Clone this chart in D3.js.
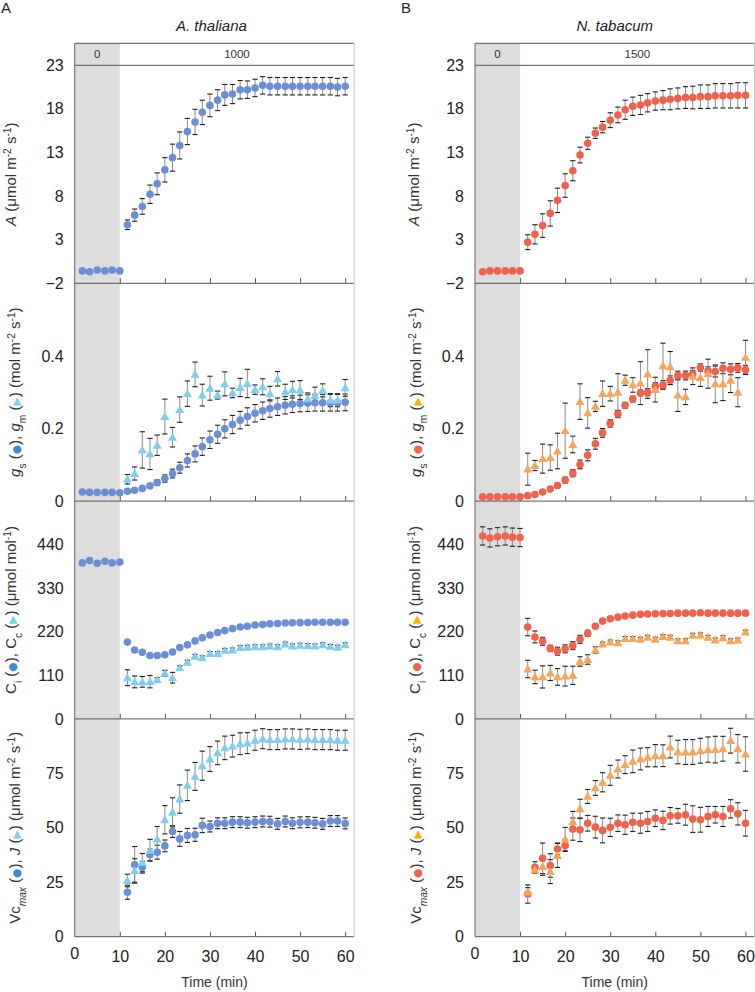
<!DOCTYPE html>
<html><head><meta charset="utf-8">
<script src="https://cdn.jsdelivr.net/npm/d3@7"></script>
<style>body{margin:0;background:#fff}text{font-family:"Liberation Sans",Arial,sans-serif}</style>
</head><body><svg id="c" width="755" height="992"></svg>
<script>
// ---------- data ----------
const times = [1.7,3.3,5,6.7,8.3,10,11.7,13.3,15,16.7,18.3,20,21.7,23.3,25,26.7,28.3,30,31.7,33.3,35,36.7,38.3,40,41.7,43.3,45,46.7,48.3,50,51.7,53.3,55,56.7,58.3,60];
const xTicks = [0,10,20,30,40,50,60];
const darkLabel = "0";
const lightLabels = ["1000","1500"];
const titles = ["A. thaliana","N. tabacum"];
const letters = ["A","B"];
const yTicksA = [-2,3,8,13,18,23];
const yTicksG = [0,0.2,0.4];
const yTicksC = [0,110,220,330,440];
const yTicksV = [0,25,50,75];

// A. thaliana
const A_at = [-0.6,-0.7,-0.5,-0.6,-0.5,-0.6,4.7,5.8,6.8,8.2,9.4,11.0,12.4,13.8,15.4,16.5,17.6,18.4,19.0,19.6,19.7,20.2,20.2,20.4,20.7,20.6,20.6,20.6,20.6,20.6,20.6,20.6,20.6,20.6,20.5,20.6];
const A_at_err = [0,0,0,0,0,0,0.55,0.7,0.9,1.05,1.25,1.4,1.55,1.55,1.5,1.45,1.4,1.3,1.2,1.2,1.1,1.05,1.0,1.0,1.0,1.0,1.0,1.0,1.0,1.0,1.0,1.0,1.0,1.0,1.0,1.0];
const gs_at = [0.025,0.024,0.024,0.024,0.024,0.023,0.027,0.030,0.035,0.042,0.051,0.062,0.076,0.092,0.112,0.130,0.150,0.169,0.184,0.199,0.211,0.223,0.233,0.242,0.249,0.255,0.260,0.264,0.267,0.269,0.270,0.271,0.271,0.271,0.271,0.272];
const gs_at_err = [0,0,0,0,0,0,0.003,0.004,0.005,0.006,0.008,0.010,0.012,0.015,0.018,0.022,0.024,0.024,0.025,0.025,0.025,0.024,0.024,0.024,0.024,0.024,0.024,0.024,0.023,0.023,0.023,0.023,0.023,0.023,0.023,0.023];
const gm_at = [null,null,null,null,null,null,0.060,0.076,0.141,0.130,0.154,0.233,0.176,0.252,0.296,0.349,0.292,0.311,0.292,0.323,0.298,0.313,0.324,0.307,0.315,0.296,0.337,0.301,0.307,0.306,0.282,0.291,0.305,0.278,0.278,0.312];
const gm_at_err = [0,0,0,0,0,0,0.013,0.018,0.05,0.043,0.028,0.048,0.027,0.035,0.035,0.034,0.03,0.033,0.011,0.033,0.013,0.025,0.039,0.013,0.022,0.02,0.02,0.021,0.023,0.026,0.016,0.023,0.018,0.018,0.018,0.023];
const Ci_at = [394,400,393,398,394,396,194,174,168,160,160,162,169,180,187,197,205,212,218,223,228,232,234,237,238.5,240,241,242,242.5,243,243.5,244,244,244,244,244];
const Ci_at_err = [0,0,0,0,0,0,3,3,3,3,3,3,3,3,3,3,3,3,3,3,3,3,3,3,3,3,3,3,3,3,3,3,3,3,3,3];
const Cc_at = [null,null,null,null,null,null,104,93.5,93.5,94,99,115,104,129,143,158,154,165,165,173,174,180,181,182,182,184,182,189,184,186,185,184,187,183,181,187];
const Cc_at_err = [0,0,0,0,0,0,20,15,13.5,15.6,5,7.6,13.5,5,5,5,5,5,5,5,5,5,5,5,5,5,5,5,5,5,5,5,5,5,5,5];
const Vc_at = [null,null,null,null,null,null,20.4,33.0,31.9,37.6,38.8,41.7,48.3,44.9,46.5,46.8,51.1,50.6,52.1,52.1,52.6,52.6,52.3,52.6,52.9,52.8,51.8,52.9,52.1,52.5,52.6,52.3,51.8,53.1,53.1,52.0];
const Vc_at_err = [0,0,0,0,0,0,3.2,8.4,2.7,2.7,3.2,2.7,2.7,3.4,3.2,3,3.3,2.5,2.5,2.5,2.5,2.5,2.5,2.5,2.5,2.5,2.5,2.5,2.5,2.5,2.5,2.5,2.5,2.5,2.5,2.5];
const J_at = [null,null,null,null,null,null,25.8,30.4,34.0,39.7,44.8,53.7,57.1,63.2,69.5,73.6,78.5,81.6,84.4,86.7,87.5,88.6,88.9,90.2,90.9,90.5,90.5,90.8,90.8,90.6,90.8,90.5,90.5,90.5,90.2,90.2];
const J_at_err = [0,0,0,0,0,0,2.9,5.4,4.2,5,5.8,6.5,6.7,6.5,7,6.4,6.7,5.7,5.4,5.4,5,5,4.8,4.6,4.6,4.6,4.6,4.6,4.6,4.6,4.6,4.6,4.6,4.6,4.6,4.6];

// N. tabacum
const A_nt = [-0.7,-0.6,-0.6,-0.6,-0.6,-0.6,2.7,3.6,4.6,6.0,7.5,9.2,10.9,12.7,14.05,15.2,15.9,16.7,17.3,17.9,18.3,18.45,18.7,18.9,19.0,19.1,19.2,19.3,19.3,19.4,19.4,19.5,19.5,19.5,19.55,19.55];
const A_nt_err = [0,0,0,0,0,0,0.85,1.1,1.35,1.45,1.4,1.35,1.15,0.9,0.7,0.6,0.65,0.85,0.9,1.1,1.05,1.1,1.05,1.05,1.1,1.2,1.2,1.25,1.3,1.35,1.35,1.4,1.4,1.4,1.45,1.45];
const gs_nt = [0.012,0.012,0.012,0.012,0.012,0.012,0.015,0.018,0.025,0.033,0.043,0.058,0.077,0.101,0.126,0.158,0.188,0.214,0.240,0.264,0.281,0.298,0.300,0.316,0.320,0.333,0.346,0.346,0.350,0.368,0.358,0.357,0.366,0.363,0.367,0.362];
const gs_nt_err = [0,0,0,0,0,0,0.002,0.003,0.004,0.005,0.006,0.008,0.01,0.012,0.015,0.015,0.012,0.01,0.01,0.008,0.008,0.008,0.01,0.01,0.012,0.012,0.012,0.012,0.01,0.01,0.012,0.015,0.015,0.015,0.012,0.012];
const gm_nt = [null,null,null,null,null,null,0.088,0.098,0.117,0.120,0.138,0.194,0.156,0.274,0.243,0.261,0.296,0.296,0.300,0.333,0.320,0.325,0.350,0.307,0.373,0.370,0.292,0.287,0.344,0.340,0.351,0.323,0.323,0.333,0.300,0.396];
const gm_nt_err = [0,0,0,0,0,0,0.044,0.014,0.04,0.035,0.049,0.076,0.023,0.049,0.042,0.014,0.035,0.02,0.051,0.014,0.02,0.059,0.067,0.034,0.062,0.042,0.045,0.021,0.023,0.024,0.04,0.052,0.046,0.034,0.04,0.047];
const Ci_nt = [462,457,460,462,459,458,232,207,196,178,171,177,185,201,216,234,247,253,257,260,262,264,265,265.5,266,266,267,267,267,268,267,267,267,267,267,267];
const Ci_nt_err = [23,23,23,23,23,23,22,15,10,8,10,10,10,10,8,5,4,4,3,3,3,3,3,3,3,3,3,3,3,3,3,3,3,3,3,3];
const Cc_nt = [null,null,null,null,null,null,126,106,106,116,106,108,110,145,150,174,189,194,192,203,203,201,206,201,208,206,197,197,211,212,206,199,205,197,199,219];
const Cc_nt_err = [0,0,0,0,0,0,22,17,28,19,21,25,23,12,12,8,5,5,5,5,5,5,5,5,5,5,5,5,5,5,5,5,5,5,5,5];
const Vc_nt = [null,null,null,null,null,null,19.6,31.9,36.0,32.7,40.3,41.9,49.4,49.1,52.1,50.3,48.8,50.2,52.1,51.4,52.5,52.1,52.9,54.4,53.4,55.5,55.5,56.0,54.0,53.7,55.2,56.0,55.2,58.7,56.4,52.1];
const Vc_nt_err = [0,0,0,0,0,0,4.2,2.5,7,5.4,2.7,2.7,5.1,5.4,3.6,5,5.7,4.2,3.8,4.4,4.2,4.6,4.6,3.8,4.2,3.8,3.4,4.8,6.1,5.7,4.6,3.8,4.6,4.2,5.1,5.9];
const J_nt = [null,null,null,null,null,null,20.5,30.7,32.2,29.9,37.3,44.8,52.9,58.7,64.4,68.3,70.9,74.1,77.0,79.0,80.5,81.6,82.4,83.1,83.1,87.1,84.8,84.8,84.8,85.4,85.9,85.9,86.3,90.0,86.3,83.9];
const J_nt_err = [0,0,0,0,0,0,2,1.5,4,5.5,5.5,5.4,4.6,4.4,3.2,3.4,4.4,4.6,4.1,4.1,5.2,5,4.4,5.1,5,5,5.4,5.7,5.7,5.7,5.8,6.1,5.7,5.7,6.5,7.9];

// ---------- layout ----------
const svg = d3.select('#c');
const colX0 = [74.7, 475];
const plotW = 279.5;
const headerTop = 43.3;
const rowTops = [65.3, 283.3, 501.1, 718.9];
const rowH = 217.8;
const yDomains = [[-2,23],[0,0.6],[0,550],[0,100]];
const yTicks = [yTicksA, yTicksG, yTicksC, yTicksV];
const labelX = [[16,20,16,20],[419,421,420,421]];
const tickFS = 16;

const cols = [
  {c:'#6a8fd5', t:'#80cdee', lc:'#3d88d8', lt:'#80cdee',
   series:[[A_at,A_at_err,null,null],[gs_at,gs_at_err,gm_at,gm_at_err],[Ci_at,Ci_at_err,Cc_at,Cc_at_err],[Vc_at,Vc_at_err,J_at,J_at_err]]},
  {c:'#f2614b', t:'#f7a55c', lc:'#f2614b', lt:'#f5b300',
   series:[[A_nt,A_nt_err,null,null],[gs_nt,gs_nt_err,gm_nt,gm_nt_err],[Ci_nt,Ci_nt_err,Cc_nt,Cc_nt_err],[Vc_nt,Vc_nt_err,J_nt,J_nt_err]]}
];

function yLabel(g, x, y, parts, fs){
  const t = g.append('text').attr('transform',`translate(${x},${y}) rotate(-90)`)
    .attr('text-anchor','middle').attr('font-size',fs).attr('fill','#333');
  parts.forEach(p=>{
    const s = t.append('tspan').text(p.s);
    if(p.i) s.attr('font-style','italic');
    if(p.sub){ s.attr('baseline-shift','sub').attr('font-size',fs*0.68); }
    if(p.sup){ s.attr('baseline-shift','super').attr('font-size',fs*0.68); }
    if(p.col){ s.attr('fill',p.col).attr('font-family','DejaVu Sans').attr('font-size',fs*0.72); }
  });
}

cols.forEach((col,ci)=>{
  const x0 = colX0[ci];
  const x = d3.scaleLinear().domain([0,62]).range([x0, x0+plotW]);
  const g = svg.append('g');
  const bottom = rowTops[3]+rowH;
  // shaded dark period
  g.append('rect').attr('x',x(0)).attr('y',headerTop).attr('width',x(10)-x(0)).attr('height',bottom-headerTop).attr('fill','#dcdddc');
  // header
  g.append('text').attr('x',(x(0)+x(10))/2).attr('y',58).attr('text-anchor','middle').attr('font-size',11.5).attr('fill','#333').text(darkLabel);
  g.append('text').attr('x',(x(10)+x(62))/2).attr('y',58).attr('text-anchor','middle').attr('font-size',11.5).attr('fill','#333').text(lightLabels[ci]);
  // title & letter
  g.append('text').attr('x',(x(0)+x(62))/2 - (ci===0?3:0)).attr('y',31).attr('text-anchor','middle').attr('font-size',15).attr('font-style','italic').attr('fill','#222').text(titles[ci]);
  g.append('text').attr('x',ci===0?1:401).attr('y',13).attr('font-size',15).attr('fill','#222').text(letters[ci]);

  rowTops.forEach((top,ri)=>{
    const y = d3.scaleLinear().domain(yDomains[ri]).range([top+rowH, top]);
    const pg = g.append('g');
    // y axis labels
    const ya = pg.append('g').attr('transform',`translate(${x0},0)`)
      .call(d3.axisLeft(y).tickValues(yTicks[ri]).tickSize(0).tickPadding(11).tickFormat(d3.format('')));
    ya.select('.domain').remove();
    ya.selectAll('text').attr('font-size',tickFS).attr('fill','#222').attr('font-family','"Liberation Sans",Arial,sans-serif');
    // x axis ticks
    const xa = pg.append('g').attr('transform',`translate(0,${top+rowH})`)
      .call(d3.axisBottom(x).tickValues(xTicks.filter(v=>v>0)).tickSizeInner(-5).tickSizeOuter(0).tickPadding(14)
        .tickFormat(ri===3? d3.format('') : ()=>''));
    xa.select('.domain').remove();
    xa.selectAll('line').attr('stroke','#555');
    xa.selectAll('text').attr('font-size',tickFS).attr('fill','#222').attr('font-family','"Liberation Sans",Arial,sans-serif');
    if(ri===3){
      pg.append('text').attr('x',x(0)).attr('y',top+rowH+22).attr('text-anchor','middle').attr('font-size',tickFS).attr('fill','#222').text('0');
    }
    // data
    const [v1,e1,v2,e2] = col.series[ri];
    const sets = [[v1,e1,'c']];
    if(v2) sets.push([v2,e2,'t']);
    const eg = pg.append('g');
    sets.forEach(([vals,errs])=>{
      times.forEach((t,i)=>{
        if(vals[i]==null || !errs[i]) return;
        const cx = x(t), ya1 = y(vals[i]+errs[i]), ya2 = y(vals[i]-errs[i]);
        eg.append('line').attr('x1',cx).attr('x2',cx).attr('y1',ya1).attr('y2',ya2).attr('stroke','#8a8a8a').attr('stroke-width',1);
        [ya1,ya2].forEach(yy=>eg.append('line').attr('x1',cx-2.6).attr('x2',cx+2.6).attr('y1',yy).attr('y2',yy).attr('stroke','#1e1e1e').attr('stroke-width',1.1));
      });
    });
    sets.forEach(([vals,errs,sh])=>{
      const pts = times.map((t,i)=>({t,v:vals[i]})).filter(d=>d.v!=null);
      if(sh==='c'){
        pg.append('g').selectAll('circle').data(pts).join('circle')
          .attr('cx',d=>x(d.t)).attr('cy',d=>y(d.v)).attr('r',3.8).attr('fill',col.c);
      } else {
        pg.append('g').selectAll('path').data(pts).join('path')
          .attr('d',d3.symbol(d3.symbolTriangle,36)).attr('transform',d=>`translate(${x(d.t)},${y(d.v)+0.8})`).attr('fill',col.t);
      }
    });
  });

  // frame lines
  const fg = g.append('g');
  fg.append('line').attr('x1',x(0)).attr('x2',x(62)).attr('y1',headerTop).attr('y2',headerTop).attr('stroke','#555');
  [rowTops[0],rowTops[1],rowTops[2],rowTops[3],bottom].forEach(yy=>
    fg.append('line').attr('x1',x(0)).attr('x2',x(62)).attr('y1',yy).attr('y2',yy).attr('stroke','#555'));
  fg.append('line').attr('x1',x(0)).attr('x2',x(0)).attr('y1',headerTop).attr('y2',bottom).attr('stroke','#666');
  fg.append('line').attr('x1',x(62)).attr('x2',x(62)).attr('y1',headerTop).attr('y2',bottom).attr('stroke','#c8c8c8');

  // x title
  g.append('text').attr('x',(x(0)+x(62))/2).attr('y',987).attr('text-anchor','middle').attr('font-size',14).attr('fill','#333').text('Time (min)');

  // y labels
  const cy = rowTops.map(t=>t+rowH/2);
  const fs = 15;
  yLabel(g, labelX[ci][0], cy[0], [{s:'A',i:1},{s:' (μmol m'},{s:'-2',sup:1},{s:' s'},{s:'-1',sup:1},{s:')'}], fs);
  yLabel(g, labelX[ci][1], cy[1], [{s:'g',i:1},{s:'s',sub:1},{s:' ('},{s:'●',col:col.lc},{s:'),  '},{s:'g',i:1},{s:'m',sub:1},{s:' ('},{s:'▶',col:col.lt},{s:') (mol m'},{s:'-2',sup:1},{s:' s'},{s:'-1',sup:1},{s:')'}], fs);
  yLabel(g, labelX[ci][2], cy[2], [{s:'C'},{s:'i',sub:1},{s:' ('},{s:'●',col:col.lc},{s:'), C'},{s:'c',sub:1},{s:' ('},{s:'▶',col:col.lt},{s:') (μmol mol'},{s:'-1',sup:1},{s:')'}], fs);
  yLabel(g, labelX[ci][3], cy[3], [{s:'Vc'},{s:'max',sub:1,i:1},{s:' ('},{s:'●',col:col.lc},{s:'), '},{s:'J',i:1},{s:' ('},{s:'▶',col:col.lt},{s:') (μmol m'},{s:'-2',sup:1},{s:' s'},{s:'-1',sup:1},{s:')'}], fs);
});
</script></body></html>
